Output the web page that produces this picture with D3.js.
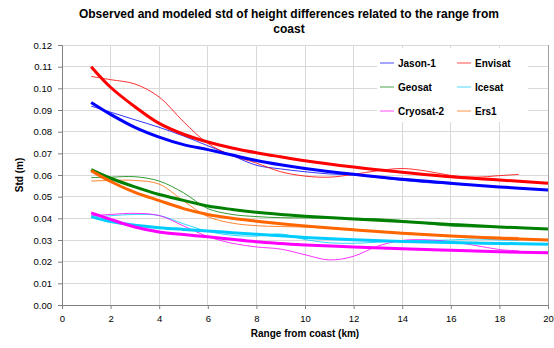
<!DOCTYPE html>
<html><head><meta charset="utf-8">
<script src="https://cdn.jsdelivr.net/npm/d3@7"></script>
<style>body{margin:0;background:#fff}svg{display:block;font-family:"Liberation Sans",Arial,sans-serif}</style>
</head><body><svg id="c" width="554" height="348"></svg>
<script>
const seriesNames = ["Jason-1","Envisat","Geosat","Icesat","Cryosat-2","Ers1"];
const seriesColors = ["#0000ff","#ff0000","#008000","#00ccff","#ff00ff","#ff6600"];
const modelX = [1.2,2,3,4,5,6,7,8,9,10,12,14,16,18,20];
const obsX = [1.2,2,3,4,5,6,7,8,9,10,11,12,13,14,15,16,17,18,18.8];
const jasonModel = [0.0935,0.088,0.082,0.0775,0.074,0.0717,0.0692,0.0667,0.0647,0.063,0.0603,0.058,0.0562,0.0545,0.0531];
const envisatModel = [0.110,0.1005,0.0915,0.0838,0.0788,0.0752,0.0725,0.0703,0.0684,0.0666,0.0637,0.0613,0.0592,0.0577,0.0562];
const geosatModel = [0.0625,0.0585,0.0545,0.051,0.0483,0.0457,0.0441,0.0428,0.0418,0.041,0.0397,0.0385,0.0372,0.036,0.0351];
const icesatModel = [0.0408,0.0385,0.0368,0.0357,0.0349,0.0342,0.0334,0.0326,0.032,0.0312,0.0301,0.0293,0.0288,0.0284,0.028];
const cryosatModel = [0.0425,0.0395,0.036,0.0337,0.0325,0.0315,0.0303,0.0292,0.0284,0.0277,0.0268,0.026,0.0253,0.0246,0.0241];
const ers1Model = [0.062,0.057,0.052,0.0482,0.0445,0.0418,0.040,0.0387,0.0375,0.0365,0.0347,0.0331,0.0318,0.0308,0.030];
const jasonObs = [0.0918,0.089,0.0855,0.082,0.078,0.0735,0.069,0.0645,0.0628,0.0615,0.0605,0.060,0.0588,0.0575,0.0565,0.0558,0.0552,0.0546,0.054];
const envisatObs = [0.1055,0.104,0.102,0.096,0.0846,0.0746,0.069,0.0655,0.0615,0.0595,0.059,0.0603,0.062,0.063,0.0618,0.0598,0.059,0.0597,0.0603];
const geosatObs = [0.0588,0.059,0.0592,0.0572,0.0518,0.0445,0.0418,0.0408,0.0403,0.0402,0.0401,0.040,0.0398,0.039,0.0375,0.0364,0.036,0.036,0.036];
const icesatObs = [0.0405,0.0412,0.0418,0.0413,0.0375,0.034,0.0322,0.0318,0.0328,0.0302,0.0287,0.0285,0.029,0.0296,0.0298,0.030,0.0305,0.030,0.0298];
const cryosatObs = [0.0412,0.0418,0.0423,0.0413,0.0365,0.0316,0.0285,0.0268,0.0258,0.0232,0.0208,0.0225,0.0272,0.0298,0.0301,0.0292,0.0275,0.0256,0.025];
const ers1Obs = [0.0572,0.0575,0.0575,0.0558,0.048,0.0408,0.0378,0.0366,0.0362,0.036,0.0355,0.0347,0.034,0.0334,0.0327,0.032,0.0316,0.0313,0.0312];
const modelVals = [jasonModel,envisatModel,geosatModel,icesatModel,cryosatModel,ers1Model];
const obsVals = [jasonObs,envisatObs,geosatObs,icesatObs,cryosatObs,ers1Obs];
const xTicks = [0,2,4,6,8,10,12,14,16,18,20];
const yTicks = [0,0.01,0.02,0.03,0.04,0.05,0.06,0.07,0.08,0.09,0.10,0.11,0.12];
const titleLines = ["Observed and modeled std of height differences related to the range from","coast"];

const svg = d3.select("#c");
const L=62,R=548,T=45,B=305;
const x = d3.scaleLinear().domain([0,20]).range([L,R]);
const y = d3.scaleLinear().domain([0,0.12]).range([B,T]);

// grid
const grid = svg.append("g");
grid.selectAll(".hg").data(yTicks).join("line")
  .attr("x1",L).attr("x2",R).attr("y1",d=>y(d)).attr("y2",d=>y(d))
  .attr("stroke","#d9d9d9").attr("stroke-width",1).attr("shape-rendering","crispEdges");
grid.selectAll(".vg").data(xTicks.slice(1)).join("line")
  .attr("y1",T).attr("y2",B).attr("x1",d=>x(d)).attr("x2",d=>x(d))
  .attr("stroke","#d9d9d9").attr("stroke-width",1).attr("shape-rendering","crispEdges");
svg.append("line").attr("x1",R).attr("x2",R).attr("y1",T).attr("y2",B).attr("stroke","#a0a0a0").attr("shape-rendering","crispEdges");

// axes
const xa = svg.append("g").attr("transform",`translate(0,${B})`)
  .call(d3.axisBottom(x).tickValues(xTicks).tickFormat(d3.format("d")).tickSize(4).tickPadding(6));
const ya = svg.append("g").attr("transform",`translate(${L},0)`)
  .call(d3.axisLeft(y).tickValues(yTicks).tickFormat(d3.format(".2f")).tickSize(4).tickPadding(6));
[xa,ya].forEach(a=>{
  a.select(".domain").attr("stroke","#808080");
  a.selectAll(".tick line").attr("stroke","#808080");
  a.selectAll("text").attr("font-size","9.5px").attr("fill","#000").attr("font-family","Liberation Sans, Arial, sans-serif");
});

// lines
const lineGen = d3.line().x(d=>x(d[0])).y(d=>y(d[1])).curve(d3.curveCatmullRom.alpha(0.5));
const g = svg.append("g");
obsVals.forEach((vals,i)=>{
  g.append("path").datum(obsX.map((xx,j)=>[xx,vals[j]]))
    .attr("d",lineGen).attr("fill","none").attr("stroke",seriesColors[i]).attr("stroke-width",1).attr("stroke-opacity",0.8);
});
modelVals.forEach((vals,i)=>{
  g.append("path").datum(modelX.map((xx,j)=>[xx,vals[j]]))
    .attr("d",lineGen).attr("fill","none").attr("stroke",seriesColors[i]).attr("stroke-width",3);
});

// legend
const lg = svg.append("g");
lg.append("rect").attr("x",377).attr("y",48).attr("width",151).attr("height",74).attr("fill","#fff");
seriesNames.forEach((n,i)=>{
  const col=i%2,row=Math.floor(i/2);
  const lx = 380+col*77, ly = 63+row*24;
  lg.append("line").attr("x1",lx).attr("x2",lx+14).attr("y1",ly).attr("y2",ly)
    .attr("stroke",seriesColors[i]).attr("stroke-width",1).attr("stroke-opacity",0.7);
  lg.append("text").attr("x",lx+18).attr("y",ly+3.5).text(n)
    .attr("font-size","10px").attr("font-weight","bold");
});

// titles
svg.selectAll(".tt").data(titleLines).join("text")
  .attr("x",289).attr("y",(d,i)=>18+i*15).attr("text-anchor","middle")
  .attr("font-size","12px").attr("font-weight","bold").text(d=>d);
svg.append("text").attr("x",(L+R)/2).attr("y",337).attr("text-anchor","middle")
  .attr("font-size","10px").attr("font-weight","bold").text("Range from coast (km)");
svg.append("text").attr("transform",`translate(23,${(T+B)/2}) rotate(-90)`).attr("text-anchor","middle")
  .attr("font-size","10px").attr("font-weight","bold").text("Std (m)");
</script></body></html>
